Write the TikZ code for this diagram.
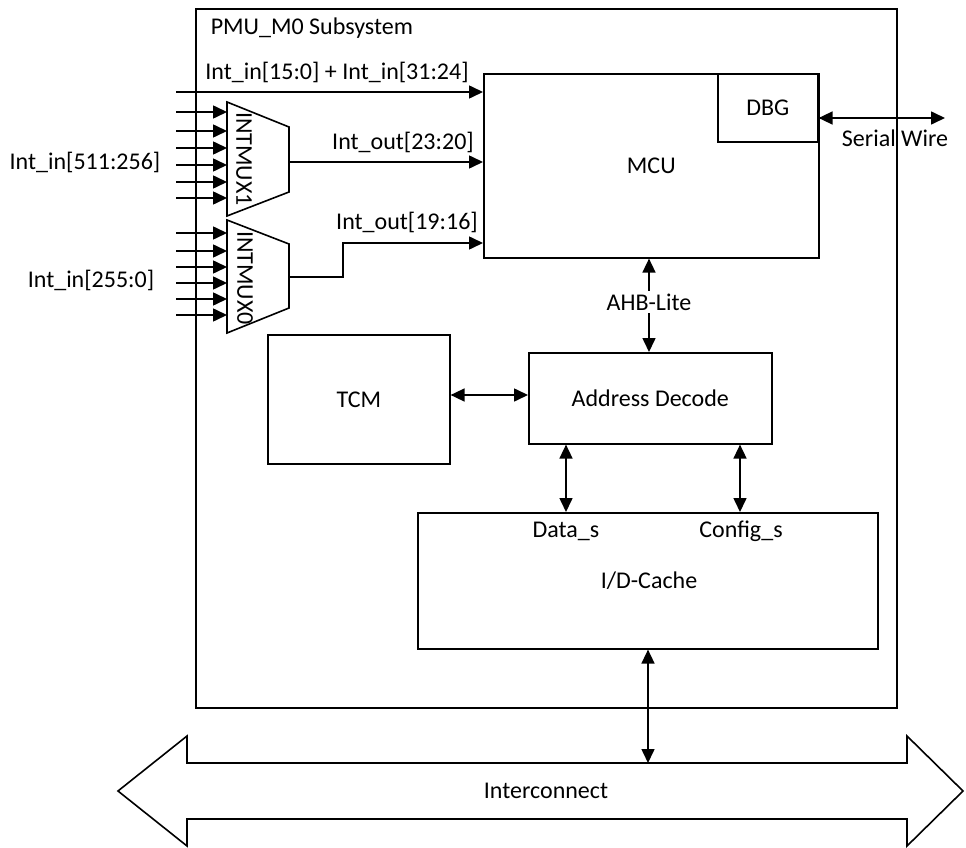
\documentclass[tikz,border=0pt]{standalone}
\usepackage{fontspec}
\setmainfont{Carlito}
\usetikzlibrary{arrows.meta}
\begin{document}
\begin{tikzpicture}[x=1pt,y=-1pt,
  line width=1.6pt, line join=miter,
  box/.style={draw, line width=1.6pt, inner sep=0pt, anchor=north west,
    font=\fontsize{24}{28}\selectfont},
  lbl/.style={font=\fontsize{24}{28}\selectfont, inner sep=0pt},
  tip/.style={-{Triangle[length=14pt,width=13pt]}},
  dtip/.style={{Triangle[length=14pt,width=13pt]}-{Triangle[length=14pt,width=13pt]}},
]
\useasboundingbox (0,0) rectangle (966,848);

% subsystem frame
\node[box, minimum width=701pt, minimum height=699pt] (sub) at (195,8) {};
\node[lbl, anchor=west] (title) at (210,28) {PMU\_M0 Subsystem};

% MCU and DBG
\node[box, minimum width=335pt, minimum height=184pt] (mcu) at (483,73) {MCU};
\node[box, minimum width=100pt, minimum height=68pt] (dbg) at (717,73) {DBG};
\coordinate (sw) at (945,118);
\draw[dtip] (dbg.east |- sw) -- (sw);
\node[lbl] (swl) at (895,138) {Serial Wire};

% top interrupt input
\coordinate (in0) at (176,92);
\draw[tip] (in0) -- (mcu.west |- in0);
\node[lbl] (in0l) at (337,72) {Int\_in[15:0] + Int\_in[31:24]};

% muxes
\draw (227,102) coordinate (m1a) -- (289,127) -- (289,192) -- (227,216) -- cycle;
\node[lbl, rotate=-90] (m1l) at (244,159) {INTMUX1};
\draw (227,220) coordinate (m0a) -- (289,244) -- (289,308) -- (227,333) -- cycle;
\node[lbl, rotate=-90] (m0l) at (245,278) {INTMUX0};

\foreach \yy in {112,131,148,165,182,198,233,251,267,283,299,315}{
  \coordinate (ia) at (176,\yy);
  \coordinate (ib) at (227,\yy);
  \draw[tip] (ia) -- (ib);
}
\node[lbl] (in1l) at (85,162) {Int\_in[511:256]};
\node[lbl] (in2l) at (91,280) {Int\_in[255:0]};

% mux outputs
\coordinate (m1o) at (289,162);
\draw[tip] (m1o) -- (mcu.west |- m1o);
\node[lbl] (o1l) at (403,142) {Int\_out[23:20]};
\coordinate (m0o) at (289,277);
\coordinate (m0t) at (343,243);
\draw[tip] (m0o) -| (m0t) -- (mcu.west |- m0t);
\node[lbl] (o0l) at (407,222) {Int\_out[19:16]};

% address decode, TCM
\node[box, minimum width=243pt, minimum height=91pt] (ad) at (528,352) {Address Decode};
\node[box, minimum width=182pt, minimum height=129pt] (tcm) at (267,334) {TCM};
\coordinate (ahb) at (649,300);
\draw[dtip] (mcu.south -| ahb) -- (ad.north -| ahb);
\node[lbl, fill=white, inner sep=3pt] (ahbl) at (649,302) {AHB-Lite};
\coordinate (ty) at (400,395);
\draw[dtip] (tcm.east |- ty) -- (ad.west |- ty);

% cache
\node[box, minimum width=460pt, minimum height=136pt] (cache) at (417,512) {};
\node[lbl] (cachel) at (649,581) {I/D-Cache};
\node[lbl] (dsl) at (566,531) {Data\_s};
\node[lbl] (csl) at (741,531) {Config\_s};
\coordinate (dx) at (566,480);
\coordinate (cx) at (740,480);
\draw[dtip] (ad.south -| dx) -- (cache.north -| dx);
\draw[dtip] (ad.south -| cx) -- (cache.north -| cx);

% interconnect
\draw (118,791) -- (187,736) -- (187,763) coordinate (ict) -- (907,763) -- (907,736)
  -- (963,791) -- (907,846) -- (907,819) -- (187,819) -- (187,846) -- cycle;
\node[lbl] (icl) at (546,791) {Interconnect};
\coordinate (bx) at (648,763);
\draw[dtip] (cache.south -| bx) -- (bx);
\end{tikzpicture}
\end{document}
